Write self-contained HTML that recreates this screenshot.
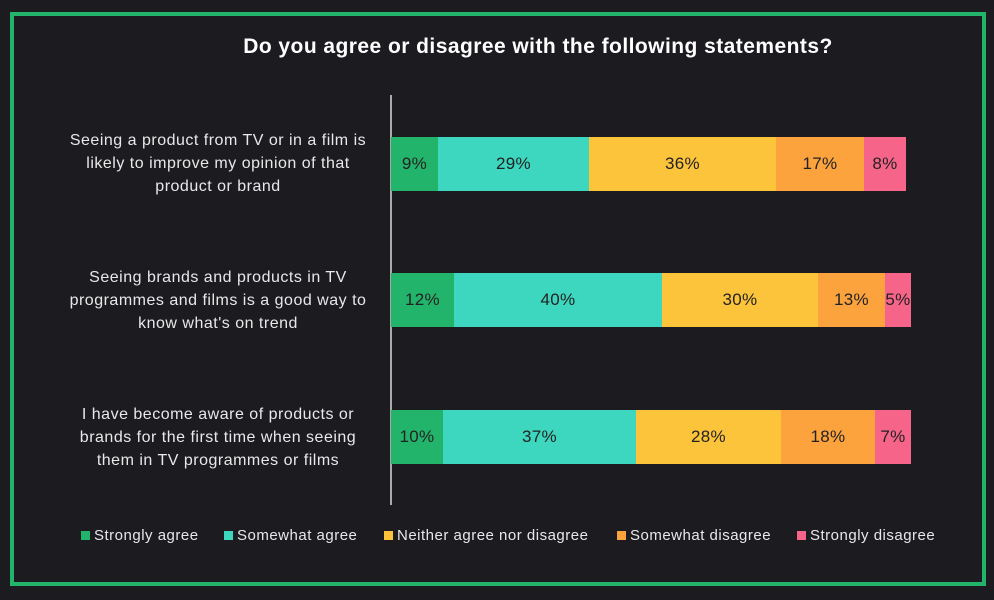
<!DOCTYPE html>
<html><head><style>
body{margin:0;width:994px;height:600px;background:#1c1b20;font-family:"Liberation Sans",sans-serif;position:relative;overflow:hidden}
.frame{position:absolute;left:10px;top:12px;width:968px;height:566px;border:4px solid #22b46a}
.t{position:absolute;left:0;width:1076px;top:35px;text-align:center;color:#fff;font-weight:bold;font-size:21px;letter-spacing:0.45px}
.axis{position:absolute;left:390px;top:95px;width:1.5px;height:410px;background:#aaa}
.lab{position:absolute;left:36px;width:364px;text-align:center;color:#e8e8e8;font-size:16px;line-height:23px;letter-spacing:0.5px;white-space:nowrap}
.seg{position:absolute;height:54px;display:flex;align-items:center;justify-content:center;color:#222;font-size:17px;letter-spacing:0.3px}
.lg{position:absolute;top:527px;color:#e8e8e8;font-size:15px;letter-spacing:0.5px;display:flex;align-items:center}
.lg i{display:inline-block;width:9px;height:9px;margin-right:4px}
</style></head><body>
<div class="frame"></div>
<div class="t">Do you agree or disagree with the following statements?</div>
<div class="axis"></div>
<div class="lab" style="top:129px">Seeing a product from TV or in a film is<br>likely to improve my opinion of that<br>product or brand</div>
<div class="lab" style="top:266px">Seeing brands and products in TV<br>programmes and films is a good way to<br>know what's on trend</div>
<div class="lab" style="top:403px">I have become aware of products or<br>brands for the first time when seeing<br>them in TV programmes or films</div>

<div class="seg" style="top:137px;left:391px;width:47px;background:#22b46a">9%</div>
<div class="seg" style="top:137px;left:438px;width:151px;background:#3dd6bf">29%</div>
<div class="seg" style="top:137px;left:589px;width:187px;background:#fcc43a">36%</div>
<div class="seg" style="top:137px;left:776px;width:88px;background:#fca33e">17%</div>
<div class="seg" style="top:137px;left:864px;width:42px;background:#f76489">8%</div>

<div class="seg" style="top:273px;left:391px;width:63px;background:#22b46a">12%</div>
<div class="seg" style="top:273px;left:454px;width:208px;background:#3dd6bf">40%</div>
<div class="seg" style="top:273px;left:662px;width:156px;background:#fcc43a">30%</div>
<div class="seg" style="top:273px;left:818px;width:67px;background:#fca33e">13%</div>
<div class="seg" style="top:273px;left:885px;width:26px;background:#f76489">5%</div>

<div class="seg" style="top:410px;left:391px;width:52px;background:#22b46a">10%</div>
<div class="seg" style="top:410px;left:443px;width:193px;background:#3dd6bf">37%</div>
<div class="seg" style="top:410px;left:636px;width:145px;background:#fcc43a">28%</div>
<div class="seg" style="top:410px;left:781px;width:94px;background:#fca33e">18%</div>
<div class="seg" style="top:410px;left:875px;width:36px;background:#f76489">7%</div>

<div class="lg" style="left:81px"><i style="background:#22b46a"></i>Strongly agree</div>
<div class="lg" style="left:224px"><i style="background:#3dd6bf"></i>Somewhat agree</div>
<div class="lg" style="left:384px"><i style="background:#fcc43a"></i>Neither agree nor disagree</div>
<div class="lg" style="left:617px"><i style="background:#fca33e"></i>Somewhat disagree</div>
<div class="lg" style="left:797px"><i style="background:#f76489"></i>Strongly disagree</div>
</body></html>
